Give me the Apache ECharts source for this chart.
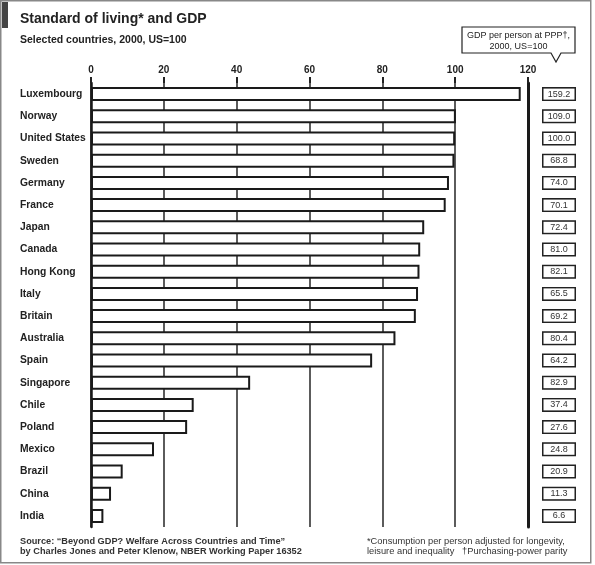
<!DOCTYPE html>
<html>
<head>
<meta charset="utf-8">
<script src="https://cdn.jsdelivr.net/npm/echarts@6/dist/echarts.min.js"></script>
<style>
html,body{margin:0;padding:0;background:#fff;}
#chart{width:595px;height:565px;}
</style>
</head>
<body>
<div id="chart"></div>
<script>
var countries = ["Luxembourg","Norway","United States","Sweden","Germany","France","Japan","Canada","Hong Kong","Italy","Britain","Australia","Spain","Singapore","Chile","Poland","Mexico","Brazil","China","India"];
var livingStandard = [118.0,100.2,100.0,99.8,98.3,97.4,91.5,90.4,90.2,89.8,89.2,83.6,77.2,43.7,28.2,26.4,17.3,8.7,5.5,3.4];
var gdpPerPerson = ["159.2","109.0","100.0","68.8","74.0","70.1","72.4","81.0","82.1","65.5","69.2","80.4","64.2","82.9","37.4","27.6","24.8","20.9","11.3","6.6"];
var xTicks = [0,20,40,60,80,100,120];

var font = "'Liberation Sans', Arial, sans-serif";
var chart = echarts.init(document.getElementById('chart'), null, {renderer:'canvas'});
chart.setOption({
  backgroundColor:'#fff',
  animation:false,
  grid:{left:91, right:67, top:83, bottom:38},
  xAxis:{
    type:'value', position:'top', min:xTicks[0], max:xTicks[xTicks.length-1], interval:20,
    axisLine:{show:false},
    axisTick:{show:true, length:6, lineStyle:{color:'#222', width:2}},
    axisLabel:{margin:8, color:'#222', fontFamily:font, fontWeight:'bold', fontSize:10},
    splitLine:{show:true, lineStyle:{color:'#333', width:1.6}}
  },
  yAxis:[{
    type:'category', data:countries, inverse:true,
    axisLine:{show:true, lineStyle:{color:'#1a1a1a', width:2.5}},
    axisTick:{show:false},
    axisLabel:{align:'left', margin:71, color:'#222', fontFamily:font, fontWeight:'bold', fontSize:10.3}
  },{
    type:'category', data:gdpPerPerson, inverse:true, position:'right',
    axisLine:{show:true, lineStyle:{color:'#1a1a1a', width:3}},
    axisTick:{show:false},
    axisLabel:{align:'center', margin:31, color:'#333', fontFamily:font, fontSize:9,
      width:27, padding:[1,2,0,2], borderColor:'#222', borderWidth:1.5, backgroundColor:'#fff', lineHeight:10}
  }],
  series:[{
    type:'bar', data:livingStandard, barWidth:14, yAxisIndex:0,
    itemStyle:{color:'#fff', borderColor:'#1a1a1a', borderWidth:2},
    z:3
  }],
  graphic:[
    {type:'rect', shape:{x:0.75,y:0.75,width:590,height:562}, style:{fill:null, stroke:'#888', lineWidth:1.5}, z:10},
    {type:'rect', shape:{x:2,y:2,width:6,height:26}, style:{fill:'#444'}, z:10},
    {type:'text', left:20, top:12, style:{text:'Standard of living* and GDP', font:"bold 14px "+font, fill:'#222'}},
    {type:'text', left:20, top:35, style:{text:'Selected countries, 2000, US=100', font:"bold 10.5px "+font, fill:'#222'}},
    {type:'polygon', shape:{points:[[462,27],[575,27],[575,53],[561,53],[556,62],[551,53],[462,53]]}, style:{fill:'#fff', stroke:'#222', lineWidth:1.2}, z:10},
    {type:'text', x:518.5, y:30, z:11, style:{text:'GDP per person at PPP\u2020,\n2000, US=100', font:"9px "+font, fill:'#222', align:'center', lineHeight:11}},
    {type:'text', left:20, top:536, style:{text:'Source: \u201cBeyond GDP? Welfare Across Countries and Time\u201d\nby Charles Jones and Peter Klenow, NBER Working Paper 16352', font:"bold 9.2px "+font, fill:'#333', lineHeight:10.5}},
    {type:'text', left:367, top:536, style:{text:'*Consumption per person adjusted for longevity,\nleisure and inequality   \u2020Purchasing-power parity', font:"9.3px "+font, fill:'#333', lineHeight:10.5}}
  ]
});
</script>
</body>
</html>
